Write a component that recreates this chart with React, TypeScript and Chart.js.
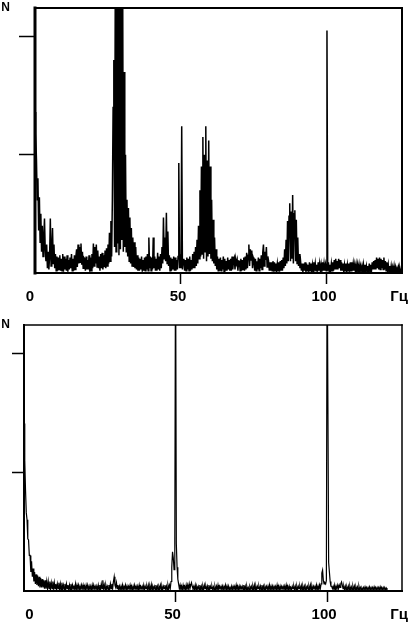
import React, { useEffect, useRef } from 'react';
import { Chart, registerables } from 'chart.js';

Chart.register(...registerables);

// Spectrum bins are spaced FREQ_STEP Hz apart, starting at 0 Hz
const FREQ_STEP = 0.25;
const X_TICKS = [0, 50, 100];
const X_UNIT = 'Гц';
const Y_TICKS = [100, 200];
const Y_MAX = 224;
const Y_UNIT = 'N';
const TOP_X_MAX = 125.7;
const BOTTOM_X_MAX = 124.7;

// upper spectrum, 0 .. 125.75 Hz
const topSpectrum = [
  136,118,96,62, 80,36,64,26, 50,18,40,14, 30,46,20,10, 24,4,18,3,
  14,46,6,20, 38,8,24,4, 16,2,14,2, 13,3,15,2, 12,2,16,1,
  14,3,12,2, 15,1,11,3, 13,4,16,2, 12,2,15,3, 14,20,5,24,
  8,22,9,25, 7,18,4,13, 12,2,14,3, 11,3,15,1, 13,2,16,4,
  25,6,22,8, 24,5,19,4, 14,2,16,4, 17,3,15,5, 19,4,21,6,
  24,8,34,10, 44,14,62,140, 180,22,250,18, 300,25,300,15, 300,20,300,28,
  280,18,170,22, 100,18,62,14, 55,10,47,8, 38,6,30,5, 26,4,22,3,
  15,2,13,2, 12,3,14,1, 11,2,13,2, 14,3,16,2, 30,4,14,2,
  13,3,30,4, 14,2,12,2, 17,3,14,2, 16,4,22,8, 47,12,30,10,
  51,8,35,6, 15,2,13,2, 12,3,14,2, 13,2,11,3, 14,93,4,10,
  4,124,3,11, 12,2,11,2, 13,3,12,2, 14,2,11,3, 16,4,18,4,
  22,6,28,8, 40,12,70,14, 90,16,115,12, 100,18,124,10, 95,14,112,16,
  90,12,62,10, 45,8,30,6, 20,3,14,2, 12,2,13,2, 11,3,14,1,
  12,2,10,2, 13,3,11,2, 12,2,14,3, 11,13,3,12, 8,11,2,10,
  10,2,12,2, 11,3,13,2, 14,3,17,4, 15,24,6,20, 11,19,4,13,
  11,2,12,2, 10,3,13,2, 12,4,15,3, 17,24,6,18, 11,22,5,14,
  10,2,9,2, 9,2,10,1, 9,2,8,2, 8,2,9,1, 10,2,11,2,
  13,4,20,6, 28,8,44,10, 48,59,10,52, 12,66,8,50, 53,10,45,8,
  30,6,16,4, 9,2,8,1, 8,2,9,1, 8,2,7,1, 9,2,8,2,
  7,1,9,2, 8,2,7,1, 9,2,8,2, 7,1,9,2, 8,2,7,2,
  205,2,9,1, 7,2,8,2, 9,2,11,3, 12,3,10,3, 12,4,11,2,
  9,2,8,1, 7,2,8,1, 7,2,8,1, 9,2,9,2, 8,2,7,1,
  7,1,7,2, 7,1,6,2, 6,1,7,1, 7,2,6,1, 6,2,8,1,
  7,2,9,3, 10,3,11,3, 13,4,12,3, 13,3,12,4, 11,3,13,3,
  10,2,9,2, 7,1,6,1, 6,1,5,1, 6,1,5,1, 4,1,5,1,
  4,1,3,1,
];

// lower spectrum, 0 .. 119.75 Hz
const bottomSpectrum = [
  141,110,85,66, 60,44,43,30, 30,16,25,12, 19,8,16,6, 14,5,13,4,
  12,3,11,3, 10,3,9,2, 9,2,8,2, 8,2,8,2, 7,2,8,1,
  7,2,6,1, 6,2,7,1, 6,1,7,2, 5,1,6,1, 6,2,5,1,
  5,1,6,1, 5,2,4,1, 6,1,5,2, 5,1,4,1, 5,2,5,1,
  4,1,5,2, 5,1,4,1, 4,1,5,1, 5,2,4,1, 4,1,5,1,
  5,1,6,2, 9,2,5,1, 5,2,4,1, 5,1,6,2, 6,2,8,12,
  5,3,7,2, 5,1,4,1, 4,1,5,1, 4,2,5,1, 4,1,4,2,
  5,1,4,1, 4,1,5,2, 4,1,4,1, 5,1,4,2, 4,1,5,1,
  4,2,4,1, 5,1,4,1, 5.5,1,4,2, 4,1,5,1, 4,1,4,2,
  5,1,4,1, 4,2,5,1, 4,1,5,2, 5,2,8,20, 33,28,18,45,
  300,40,20,10, 6,2,5,1, 4,1,5,2, 4,1,5,1, 5,2,6,2,
  5,7,4,2, 4,1,5,1, 4,2,4,1, 5,1,4,1, 4,1,5,2,
  4,1,4,1, 5,1,4,2, 4,1,3.5,1, 4,1,4,1, 5,1,4,2,
  4,1,4,1, 4,2,5,1, 4,1,4,1, 3,1,4,1, 4,2,4,1,
  5,1,4,1, 4,1,4,2, 4,1,5,1, 4,1,4,1, 3,1,4,2,
  4,1,4,1, 5,1,4,1, 4,2,4,1, 4,1,5,1, 4,1,4,2,
  4,1,4,1, 5,1,4,1, 4,1,4,2, 4,1,5,1, 4,1,4,1,
  4,2,4,1, 4,1,5,1, 4,1,4,1, 3,1,4,2, 4,1,4,1,
  4,1,4,2, 4,1,4.5,1, 4,1,4,1, 4,2,4,1, 4,1,5,1,
  4,1,4,2, 4,1,5,1, 4,1,5,2, 6,15,17.5,9, 6,7,6,9,
  300,300,24,16, 8,4,4,2, 4,1,5,1, 4,2,5,2, 5,3,6,7.6,
  5,2,4,1, 4,1,3.5,1, 4,1,4,1, 3.5,1,4,1, 4,1,3.5,1,
  3.5,1,4,1, 3,1,2.5,1, 3,1,3.5,1, 3,1,3,1, 3.5,1,3,1,
  3,1,3.5,1, 3,1,3,1, 3,1,3.5,1, 3,1,3,1, 3,1,2.5,1,
];

const framePlugin = {
  id: 'frame',
  afterDatasetsDraw(chart: any, _args: any, opts: any) {
    const { left, top, right, bottom } = chart.chartArea;
    const ctx = chart.ctx;
    ctx.save();
    ctx.strokeStyle = opts.color || '#000';
    ctx.lineCap = 'square';
    const seg = (w: number, x1: number, y1: number, x2: number, y2: number) => {
      ctx.lineWidth = w;
      ctx.beginPath();
      ctx.moveTo(x1, y1);
      ctx.lineTo(x2, y2);
      ctx.stroke();
    };
    seg(opts.top, left, top, right, top);
    seg(opts.right, right, top, right, bottom);
    seg(opts.bottom, left, bottom, right, bottom);
    seg(opts.left, left, top, left, bottom);
    ctx.restore();
  },
};

type PanelProps = {
  values: number[];
  xMax: number;
  height: number;
  padTop: number;
  yWidth: number;
  xHeight: number;
  yTickLen: number;
  yLabelPad: number;
  lineWidth: number;
  zeroLabel: string;
  frame: { left: number; top: number; right: number; bottom: number };
  top: number;
};

const FONT = 'Liberation Sans, Arial, sans-serif';

function SpectrumPanel(p: PanelProps) {
  const ref = useRef<HTMLCanvasElement | null>(null);
  useEffect(() => {
    if (!ref.current) return;
    const points = p.values.map((v, i) => ({ x: i * FREQ_STEP, y: v }));
    const chart = new Chart(ref.current, {
      type: 'line',
      data: {
        datasets: [
          {
            data: points,
            borderColor: '#000',
            borderWidth: p.lineWidth,
            pointRadius: 0,
            tension: 0,
            fill: false,
            clip: 0,
          } as any,
        ],
      },
      options: {
        animation: false,
        responsive: false,
        maintainAspectRatio: false,
        events: [],
        layout: { padding: { top: p.padTop, right: 12, left: 0, bottom: 0 } },
        plugins: {
          legend: { display: false },
          tooltip: { enabled: false },
          frame: { ...p.frame, color: '#000' },
        } as any,
        scales: {
          x: {
            type: 'linear',
            min: 0,
            max: p.xMax,
            afterBuildTicks: (s: any) => {
              s.ticks = [...X_TICKS, p.xMax].map((v) => ({ value: v }));
            },
            afterFit: (s: any) => {
              s.height = p.xHeight;
              s.paddingLeft = 0;
              s.paddingRight = 0;
            },
            ticks: {
              autoSkip: false,
              maxRotation: 0,
              minRotation: 0,
              padding: 4,
              labelOffset: -3,
              color: '#000',
              font: { family: FONT, weight: 'bold', size: 15 },
              callback: (v: any) => (v === p.xMax ? X_UNIT : v === 0 ? p.zeroLabel : String(v)),
            },
            grid: {
              drawOnChartArea: false,
              tickLength: 11,
              tickWidth: 1.5,
              tickColor: (c: any) =>
                c.tick && c.tick.value !== 0 && X_TICKS.includes(c.tick.value) ? '#000' : 'rgba(0,0,0,0)',
            },
            border: { display: false },
          },
          y: {
            type: 'linear',
            min: 0,
            max: Y_MAX,
            afterBuildTicks: (s: any) => {
              s.ticks = [...Y_TICKS, Y_MAX].map((v) => ({ value: v }));
            },
            afterFit: (s: any) => {
              s.width = p.yWidth;
              s.paddingTop = 0;
              s.paddingBottom = 0;
            },
            ticks: {
              autoSkip: false,
              padding: p.yLabelPad,
              color: '#000',
              font: { family: FONT, weight: 'bold', size: 12 },
              callback: (v: any) => (v === Y_MAX ? Y_UNIT : ''),
            },
            grid: {
              drawOnChartArea: false,
              tickLength: p.yTickLen,
              tickWidth: 1.5,
              tickColor: (c: any) =>
                c.tick && Y_TICKS.includes(c.tick.value) ? '#000' : 'rgba(0,0,0,0)',
            },
            border: { display: false },
          },
        },
      } as any,
      plugins: [framePlugin as any],
    });
    return () => chart.destroy();
  }, []);
  return (
    <canvas
      ref={ref}
      width={414}
      height={p.height}
      style={{ position: 'absolute', left: 0, top: p.top, width: 414, height: p.height, display: 'block' }}
    />
  );
}

export default function App() {
  return (
    <div style={{ position: 'fixed', left: 0, top: 0, width: 414, height: 622, background: '#fff', overflow: 'hidden' }}>
      <SpectrumPanel
        values={topSpectrum}
        xMax={TOP_X_MAX}
        height={310}
        top={0}
        padTop={8}
        yWidth={35}
        xHeight={37}
        yTickLen={16}
        yLabelPad={9}
        lineWidth={1.5}
        zeroLabel={'0\u2008'}
        frame={{ left: 3, top: 2, right: 2, bottom: 2 }}
      />
      <SpectrumPanel
        values={bottomSpectrum}
        xMax={BOTTOM_X_MAX}
        height={312}
        top={310}
        padTop={15}
        yWidth={24}
        xHeight={31}
        yTickLen={12}
        yLabelPad={2}
        lineWidth={1.2}
        zeroLabel={'\u2007\u20070'}
        frame={{ left: 2, top: 1.5, right: 1.5, bottom: 2 }}
      />
    </div>
  );
}
